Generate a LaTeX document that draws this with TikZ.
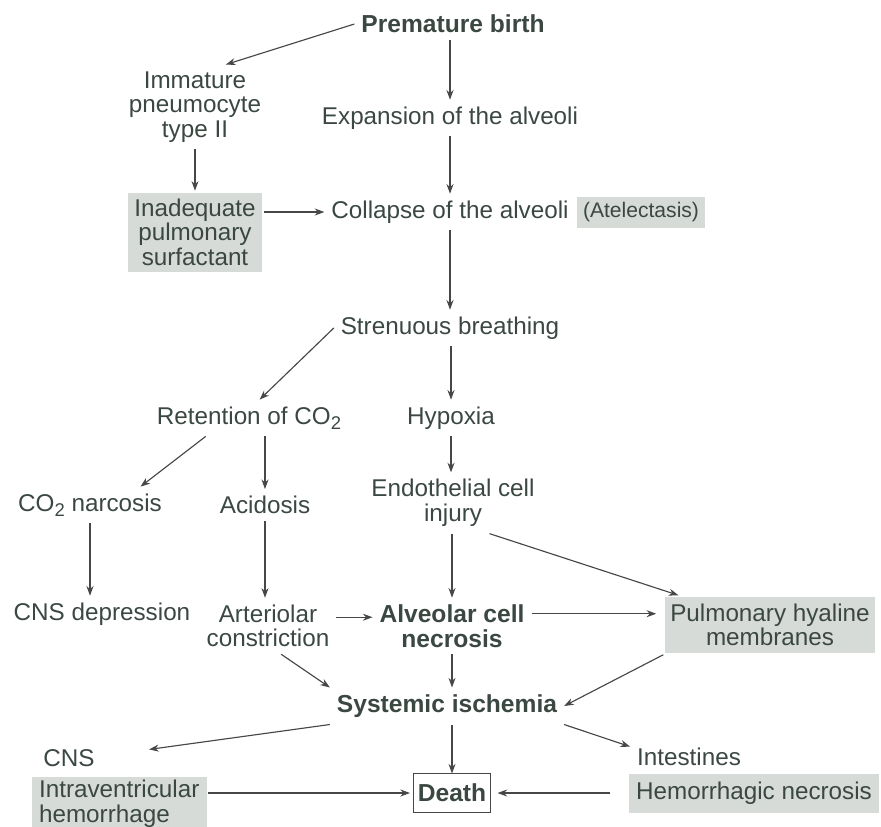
\documentclass[tikz,border=0pt]{standalone}
\usepackage{fontspec}
\setmainfont{Liberation Sans}
\usetikzlibrary{arrows.meta}

\definecolor{ink}{HTML}{3B4842}
\definecolor{wire}{HTML}{474747}
\definecolor{shade}{HTML}{D6DBD8}
\newcommand{\lowidx}[1]{\raisebox{-0.4ex}{\fontsize{10.5}{10.5}\selectfont #1}}

\begin{document}
\begin{tikzpicture}[x=0.02cm, y=-0.02cm,
    lbl/.style={text=ink, font=\fontsize{13.8}{14}\selectfont, align=center, inner sep=2pt, outer sep=2pt},
    key/.style={lbl, font=\fontsize{14}{14}\selectfont\bfseries},
    shaded/.style={lbl, fill=shade, outer sep=1pt},
    arr/.style={draw=wire, line width=0.65pt, -{Stealth[length=5.5pt,width=4pt]}}]
    \useasboundingbox (0,0) rectangle (881,826);
    % Top
    \node[key] (pb) at (453,24) {Premature birth};
    \node[lbl] (imm) at (195,107) {Immature\\pneumocyte\\type II};
    \node[lbl] (exp) at (450,118) {Expansion of the alveoli};
    \node[shaded, minimum width=2.7cm, minimum height=1.58cm] (inad) at (195,232) {Inadequate\\pulmonary\\surfactant};
    \node[lbl] (col) at (450,212) {Collapse of the alveoli};
    \node[shaded, font=\fontsize{12}{12}\selectfont, minimum width=2.56cm, minimum height=0.62cm] (atel) at (641,212) {(Atelectasis)};
    \node[lbl] (str) at (450,328) {Strenuous breathing};
    % Middle
    \node[lbl] (ret) at (249,418) {Retention of CO\lowidx{2}};
    \node[lbl] (hyp) at (451,418) {Hypoxia};
    \node[lbl] (nar) at (90,505) {CO\lowidx{2} narcosis};
    \node[lbl] (aci) at (265,505) {Acidosis};
    \node[lbl] (endo) at (453,503) {Endothelial cell\\injury};
    \node[lbl] (cnsd) at (102,614) {CNS depression};
    \node[lbl] (art) at (268,626) {Arteriolar\\constriction};
    \node[key] (alv) at (452,626) {Alveolar cell\\necrosis};
    \node[shaded, minimum width=4.2cm, minimum height=1.12cm] (pul) at (770,625) {Pulmonary hyaline\\membranes};
    % Bottom
    \node[key] (sys) at (447,706) {Systemic ischemia};
    \node[lbl] (cns) at (69,758) {CNS};
    \node[lbl] (int) at (689,757) {Intestines};
    \node[shaded, align=left, minimum width=3.5cm, minimum height=1.05cm, anchor=north west] (intra) at (30,775) {Intraventricular\\hemorrhage};
    \node[key, draw=wire, line width=0.6pt, minimum width=1.54cm, minimum height=0.78cm, outer sep=0pt] (death) at (452,793) {Death};
    \node[shaded, minimum width=5cm, minimum height=0.78cm] (hem) at (754,793) {Hemorrhagic necrosis};
    % Arrows
    \draw[arr] (pb.west) -- (imm.54);
    \draw[arr] (exp.north |- pb.south) -- (exp.north);
    \draw[arr] (exp.south) -- (col.north);
    \draw[arr] (imm.south) -- (inad.north);
    \draw[arr] (inad.east |- col.west) -- (col.west);
    \draw[arr] (col.south) -- (str.north);
    \draw[arr] (str.west) -- (ret.60);
    \draw[arr] (hyp.north |- str.south) -- (hyp.north);
    \draw[arr] (ret.203) -- (nar.20);
    \draw[arr] (aci.north |- ret.south) -- (aci.north);
    \draw[arr] (hyp.south) -- (hyp.south |- endo.north);
    \draw[arr] (nar.south) -- (nar.south |- cnsd.north);
    \draw[arr] (aci.south) -- (aci.south |- art.north);
    \draw[arr] (alv.north |- endo.south) -- (alv.north);
    \draw[arr] (endo.-40) -- (pul.162);
    \draw[arr] ([yshift=5pt]art.east) -- ([yshift=5pt]alv.west);
    \draw[arr] ([yshift=7pt]alv.east) -- ([yshift=7pt,xshift=-4pt]alv.east -| pul.west);
    \draw[arr] (art.-65) -- (sys.north west);
    \draw[arr] (alv.south) -- (alv.south |- sys.north);
    \draw[arr] (pul.south west) -- (sys.east);
    \draw[arr] (sys.south west) -- ([xshift=27pt,yshift=-4pt]cns.north east);
    \draw[arr] (death.north |- sys.south) -- (death.north);
    \draw[arr] (sys.south east) -- (int.170);
    \draw[arr] (intra.east |- death.west) -- ([xshift=-2pt]death.west);
    \draw[arr] ([xshift=-10pt]hem.west) -- ([xshift=4pt]death.east);
\end{tikzpicture}
\end{document}
